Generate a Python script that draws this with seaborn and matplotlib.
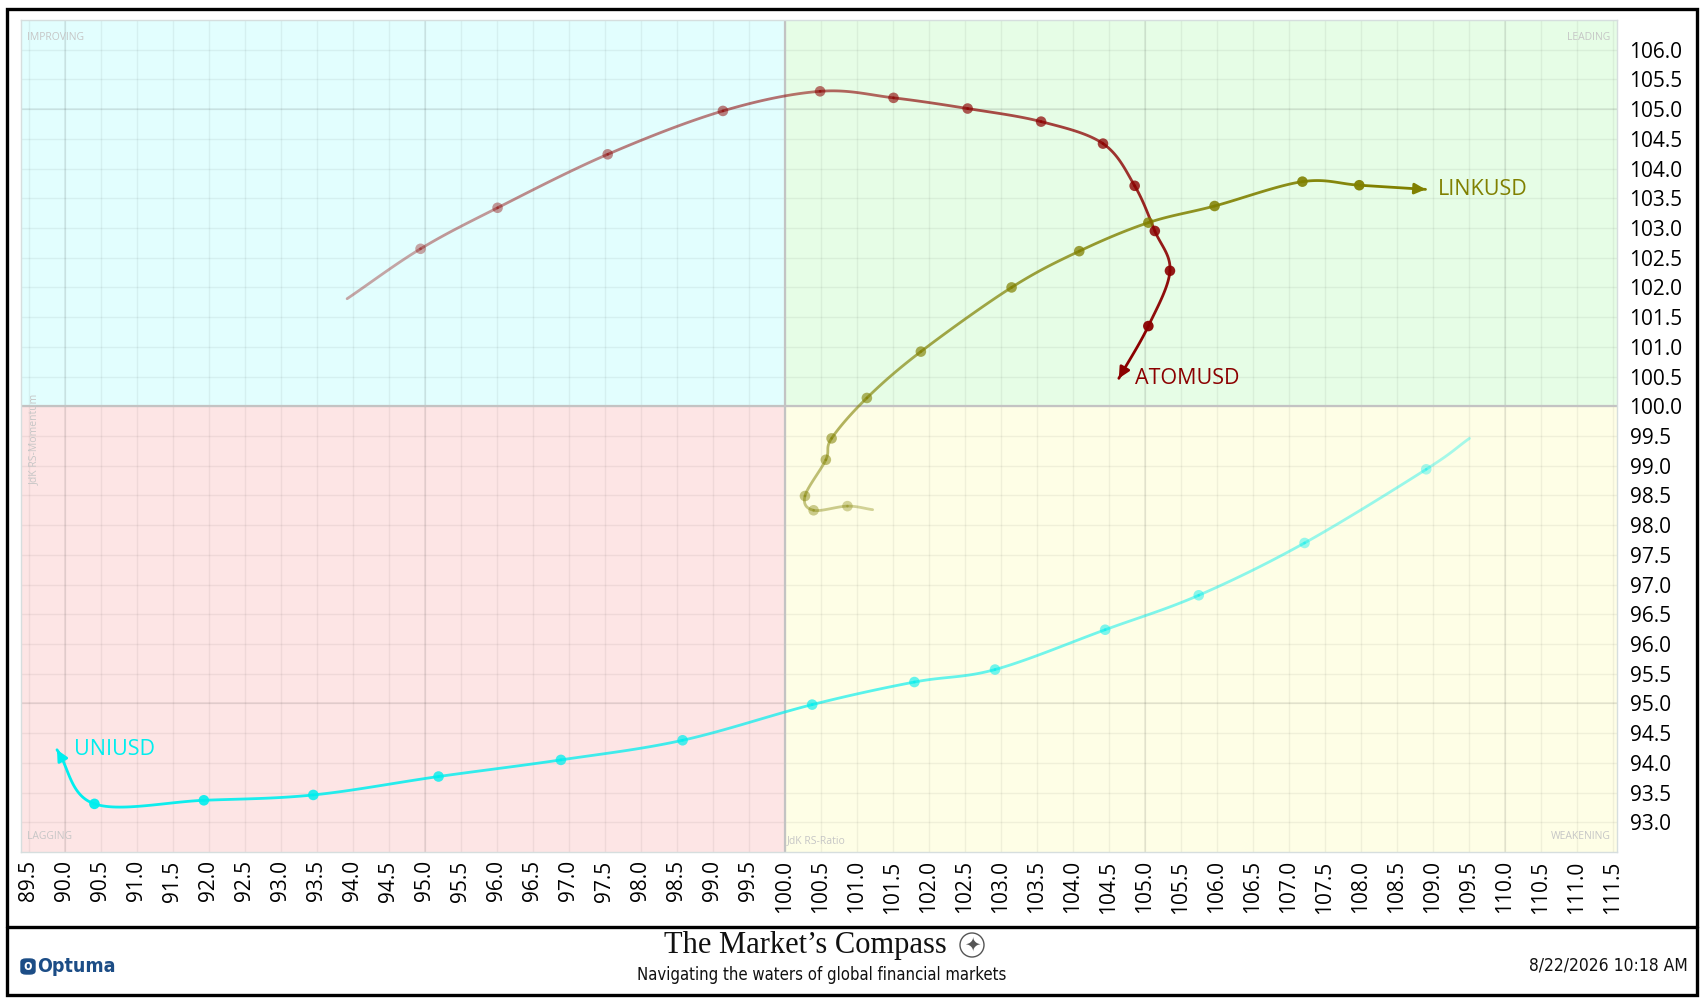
import numpy as np
import pandas as pd
import seaborn as sns
import matplotlib
matplotlib.use("Agg")
import matplotlib.pyplot as plt
from matplotlib.patches import Rectangle, Ellipse, FancyBboxPatch
from matplotlib.lines import Line2D
from matplotlib.ticker import FormatStrFormatter

# RRG trails, oldest point first, last point = arrow head (latest week)
atom_x = [93.92, 94.94, 96.01, 97.54, 99.14, 100.49, 101.51, 102.54, 103.56,
          104.42, 104.86, 105.14, 105.35, 105.05, 104.64]
atom_y = [101.81, 102.65, 103.34, 104.24, 104.97, 105.30, 105.19, 105.01, 104.79,
          104.42, 103.71, 102.95, 102.28, 101.35, 100.47]

link_x = [101.22, 100.87, 100.40, 100.28, 100.57, 100.65, 101.14, 101.89, 103.15,
          104.09, 105.05, 105.97, 107.19, 107.98, 108.90]
link_y = [98.26, 98.32, 98.25, 98.49, 99.10, 99.46, 100.14, 100.92, 102.00,
          102.61, 103.09, 103.37, 103.78, 103.72, 103.65]

uni_x = [109.51, 108.91, 107.22, 105.75, 104.45, 102.92, 101.80, 100.38, 98.58,
         96.89, 95.19, 93.45, 91.93, 90.41, 89.89]
uni_y = [99.46, 98.94, 97.70, 96.82, 96.24, 95.57, 95.36, 94.98, 94.38,
         94.05, 93.77, 93.46, 93.37, 93.31, 94.22]

x_ticks = np.arange(89.5, 111.51, 0.5)
y_ticks = np.arange(93.0, 106.01, 0.5)

colors = {"ATOMUSD": "#8b0000", "LINKUSD": "#808000", "UNIUSD": "#00eeee"}

frames = []
for sym, xs, ys in [("UNIUSD", uni_x, uni_y), ("LINKUSD", link_x, link_y),
                    ("ATOMUSD", atom_x, atom_y)]:
    frames.append(pd.DataFrame({"symbol": sym, "step": range(len(xs)),
                                "ratio": xs, "momentum": ys}))
df = pd.concat(frames, ignore_index=True)

x_lo, x_hi = 89.39, 111.56
y_lo, y_hi = 92.5, 106.5

sns.set_style("white")
plt.rcParams["font.family"] = ["Open Sans", "DejaVu Sans"]

W, H = 1701, 999
fig = plt.figure(figsize=(W / 100, H / 100), dpi=100)
ax = fig.add_axes([21 / W, 1 - 852 / H, 1596 / W, 832 / H])
ax.set_xlim(x_lo, x_hi)
ax.set_ylim(y_lo, y_hi)
ax.set_facecolor("none")

# quadrants
ax.add_patch(Rectangle((x_lo, 100), 100 - x_lo, y_hi - 100, color="#e2fefe", zorder=0))
ax.add_patch(Rectangle((100, 100), x_hi - 100, y_hi - 100, color="#e6fde6", zorder=0))
ax.add_patch(Rectangle((x_lo, y_lo), 100 - x_lo, 100 - y_lo, color="#fde5e5", zorder=0))
ax.add_patch(Rectangle((100, y_lo), x_hi - 100, 100 - y_lo, color="#fefee6", zorder=0))

ax.set_xticks(x_ticks)
ax.set_yticks(y_ticks)
ax.xaxis.set_major_formatter(FormatStrFormatter("%.1f"))
ax.yaxis.set_major_formatter(FormatStrFormatter("%.1f"))
ax.grid(True, color="black", alpha=0.055, lw=1)
ax.set_axisbelow(True)
for v in [90, 95, 105, 110]:
    ax.axvline(v, color="black", alpha=0.07, lw=1.2, zorder=1)
for v in [95, 105]:
    ax.axhline(v, color="black", alpha=0.07, lw=1.2, zorder=1)
ax.axvline(100, color="#c3c3c3", lw=1.6, zorder=1)
ax.axhline(100, color="#c3c3c3", lw=1.6, zorder=1)

ax.yaxis.tick_right()
ax.tick_params(axis="both", length=0, labelsize=15, labelcolor="black")
ax.tick_params(axis="y", pad=9)
ax.tick_params(axis="x", pad=6, labelrotation=90)
for s in ax.spines.values():
    s.set_color("#d6dede")
    s.set_linewidth(1)

# quadrant captions
cap = dict(color="#c6c6c6", fontsize=7.5)
ax.text(0.004, 0.985, "IMPROVING", transform=ax.transAxes, ha="left", va="top", **cap)
ax.text(0.996, 0.985, "LEADING", transform=ax.transAxes, ha="right", va="top", **cap)
ax.text(0.004, 0.012, "LAGGING", transform=ax.transAxes, ha="left", va="bottom", **cap)
ax.text(0.996, 0.012, "WEAKENING", transform=ax.transAxes, ha="right", va="bottom", **cap)
ax.text(100.03, y_lo + 0.1, "JdK RS-Ratio", ha="left", va="bottom", **cap)
ax.text(89.58, 99.45, "JdK RS-Momentum", rotation=90, ha="center", va="center", **cap)


def catmull(pts, n=30):
    p = np.vstack([2 * pts[0] - pts[1], pts, 2 * pts[-1] - pts[-2]])
    t = np.linspace(0, 1, n)[:, None]
    segs = []
    for i in range(1, len(p) - 2):
        p0, p1, p2, p3 = p[i - 1], p[i], p[i + 1], p[i + 2]
        seg = 0.5 * ((2 * p1) + (-p0 + p2) * t + (2 * p0 - 5 * p1 + 4 * p2 - p3) * t ** 2
                     + (-p0 + 3 * p1 - 3 * p2 + p3) * t ** 3)
        segs.append(seg)
    return segs


def draw_trail(sub, color, label, dx):
    # work in a space where both axes have similar pixel scale
    sx, sy = 72.0, 59.4
    pts = np.column_stack([sub["ratio"].to_numpy() * sx, sub["momentum"].to_numpy() * sy])
    n = len(pts)
    alphas = np.linspace(0.3, 1.0, n)
    segs = [np.column_stack([s[:, 0] / sx, s[:, 1] / sy]) for s in catmull(pts)]
    for i, seg in enumerate(segs):
        sns.lineplot(x=seg[:, 0], y=seg[:, 1], sort=False, estimator=None,
                     color=color, alpha=alphas[i + 1], lw=2, ax=ax, zorder=3)
    tip = (sub["ratio"].iloc[-1], sub["momentum"].iloc[-1])
    ax.annotate("", xy=tip, xytext=(segs[-1][-6, 0], segs[-1][-6, 1]),
                arrowprops=dict(arrowstyle="-|>", color=color, lw=2,
                                mutation_scale=16, shrinkA=0, shrinkB=0), zorder=4)
    rgba = np.array([matplotlib.colors.to_rgba(color, a) for a in alphas[1:-1]])
    ax.scatter(sub["ratio"].iloc[1:-1], sub["momentum"].iloc[1:-1], s=58, c=rgba,
               edgecolors="none", zorder=4)
    ax.annotate(label, xy=tip, xytext=(dx, 0), textcoords="offset points",
                color=color, fontsize=15.5, ha="left", va="center")


for sym, dx in [("UNIUSD", 12), ("LINKUSD", 9), ("ATOMUSD", 11.5)]:
    draw_trail(df[df["symbol"] == sym], colors[sym], sym, dx)

# outer frame and footer
fig.add_artist(Rectangle((7 / W, 1 - 995 / H), 1690 / W, 986 / H, transform=fig.transFigure,
                         fill=False, ec="black", lw=2.4))
fig.add_artist(Line2D([7 / W, 1697 / W], [1 - 927 / H, 1 - 927 / H],
                      transform=fig.transFigure, color="black", lw=2.4))

narrow = ["Liberation Sans Narrow", "DejaVu Sans"]
fig.text(805 / W, 1 - 946 / H, "The Market\u2019s Compass", ha="center", va="center",
         fontsize=22, family=["Liberation Serif", "DejaVu Serif"], color="#111111",
         fontstretch="condensed")
fig.text(822 / W, 1 - 975 / H, "Navigating the waters of global financial markets",
         ha="center", va="center", fontsize=12, family=narrow, fontstretch="condensed",
         color="#111111")
fig.add_artist(Ellipse((972 / W, 1 - 945 / H), 24 / W, 24 / H, transform=fig.transFigure,
                       fill=False, ec="#555555", lw=1))
fig.text(972 / W, 1 - 945 / H, "\u2726", ha="center", va="center", fontsize=14,
         family=["DejaVu Sans"], color="#555555")

fig.add_artist(FancyBboxPatch((21 / W, 1 - 974 / H), 14 / W, 15 / H, transform=fig.transFigure,
                              boxstyle="round,pad=0,rounding_size=0.003", color="#1c4d86"))
fig.text(23 / W, 1 - 966 / H, "o", ha="left", va="center", fontsize=10, color="white",
         fontweight="bold")
fig.text(37 / W, 1 - 966 / H, "Optuma", ha="left", va="center", fontsize=14, family=narrow,
         fontstretch="condensed", fontweight="bold", color="#1c4d86")
fig.text(1688 / W, 1 - 965 / H, "8/22/2026 10:18 AM", ha="right", va="center", fontsize=12.5,
         family=narrow, fontstretch="condensed", color="#111111")

fig.savefig("out.png", dpi=100)
